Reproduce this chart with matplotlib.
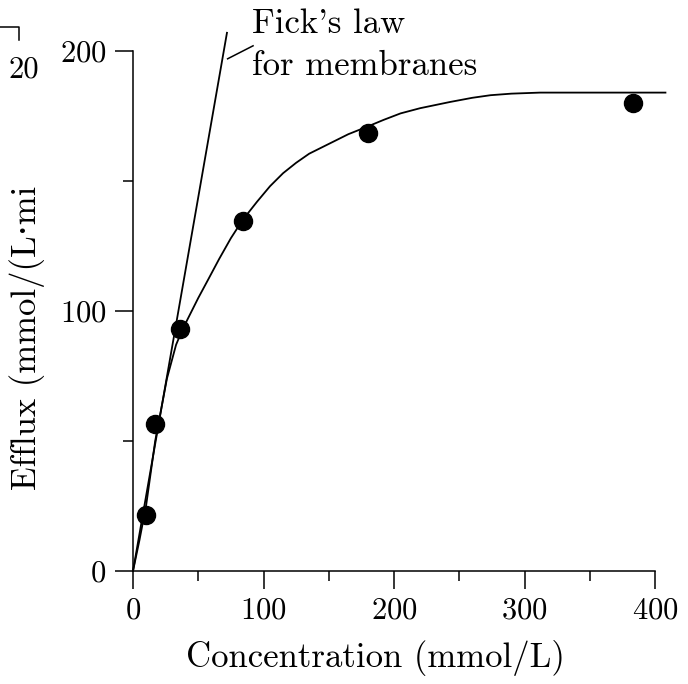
'''Efflux vs concentration, with Fick's law line for membranes.'''
import numpy as np
import matplotlib
matplotlib.use("Agg")
import matplotlib.pyplot as plt
from matplotlib.lines import Line2D

# measured points
conc = [10, 17, 36, 84, 180, 383]
efflux = [21.5, 56.5, 93, 134.6, 168.5, 180]

# fitted curve
curve_x = [0, 5, 10, 17, 26, 33, 38, 44, 50, 57.5, 66, 75, 84, 95, 105, 115, 125, 135, 145,
           153, 165, 180, 192, 205, 220, 243, 260, 274, 290, 312, 408]
curve_y = [0, 12, 25, 50, 74, 87, 93, 99, 105, 112, 120, 128, 135, 142, 148, 153, 157, 160.5, 163,
           165, 168, 171, 173.5, 176, 178, 180.4, 182, 183, 183.6, 184, 184]

# Fick's law straight line
fick_x = [0, 72]
fick_y = [0, 207]

xticks = [0, 100, 200, 300, 400]
yticks = [0, 100, 200]

plt.rcParams['font.family'] = ['cmr10', 'DejaVu Serif']
plt.rcParams['axes.formatter.use_mathtext'] = True

W, H = 688, 684
fig = plt.figure(figsize=(W/100, H/100), dpi=100)
ax = fig.add_axes([133/W, 1 - 571/H, (655-133)/W, (571-51)/H])

ax.plot(curve_x, curve_y, color='black', lw=1.3, clip_on=False)
ax.plot(fick_x, fick_y, color='black', lw=1.3, clip_on=False)
ax.plot(conc, efflux, 'o', color='black', ms=13, clip_on=False, zorder=3)

# leader line to the label
ax.plot([72.5, 92], [197, 202], color='black', lw=1.1, clip_on=False)
fig.text(252/W, 1 - 33/H, "Fick's law", fontsize=25, ha='left', va='baseline')
fig.text(252/W, 1 - 75/H, "for membranes", fontsize=25, ha='left', va='baseline')

ax.set_xlim(0, 400)
ax.set_ylim(0, 200)
ax.set_xticks(xticks)
ax.set_yticks(yticks)
ax.set_xticks([50, 150, 250, 350], minor=True)
ax.set_yticks([50, 150], minor=True)
ax.tick_params(which='major', direction='out', length=13, width=1.1, labelsize=22, pad=6)
ax.tick_params(which='minor', direction='out', length=7, width=1.1)
for side in ['top', 'right']:
    ax.spines[side].set_visible(False)
for side in ['left', 'bottom']:
    ax.spines[side].set_linewidth(1.1)

fig.text(375/W, 1 - 667/H, "Concentration (mmol/L)", fontsize=25,
         ha='center', va='baseline')
fig.text(27/W, 1 - 490/H, "Efflux (mmol/(L\u00b7mi", fontsize=25,
         rotation=90, ha='center', va='bottom')

# piece of a neighbouring panel at the top left corner
fig.add_artist(Line2D([0, 19/W, 19/W], [1 - 27/H, 1 - 27/H, 1 - 40/H],
                      color='black', lw=1.1, transform=fig.transFigure))
fig.text(24/W, 1 - 70/H, "20", fontsize=22, ha='center', va='center')

fig.savefig("out.png", dpi=100)
